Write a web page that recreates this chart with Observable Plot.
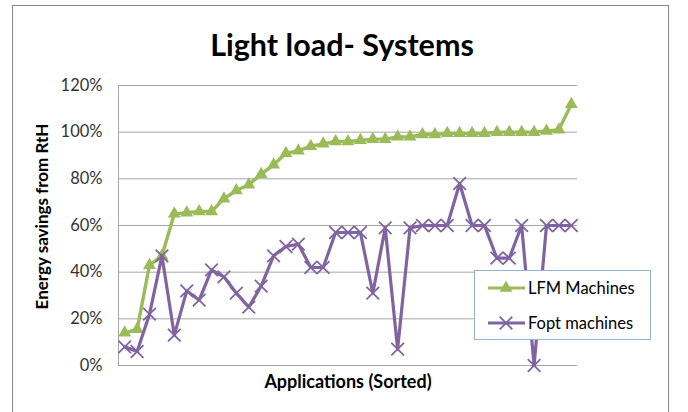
<!DOCTYPE html>
<html><head><meta charset="utf-8">
<script src="https://cdn.jsdelivr.net/npm/d3@7"></script>
<script src="https://cdn.jsdelivr.net/npm/@observablehq/plot@0.6"></script>
<style>
body{margin:0;background:#fff}
#chart svg{font-family:Lato,"Open Sans",sans-serif}
</style>
</head><body><div id="chart"></div>
<script>
// ---- data ----
const apps = d3.range(1, 38); // 37 applications, sorted
const lfm = [14, 15.5, 43, 47, 65, 65.5, 66, 66, 71.5, 75, 77.5, 82, 86, 91, 92, 94, 95, 96, 96, 96.5, 97, 97, 98, 98, 99, 99, 99.5, 99.5, 99.5, 99.5, 100, 100, 100, 100, 100.5, 101, 112];
const fopt = [8, 6, 22, 47, 13, 32, 28, 41, 38, 31, 25, 34, 47, 51, 52, 42, 42, 57, 57, 57, 31, 59, 7, 59, 60, 60, 60, 78, 60, 60, 46, 46, 60, 0, 60, 60, 60];
const yTicks = [0, 0.2, 0.4, 0.6, 0.8, 1.0, 1.2];
const seriesNames = ["LFM Machines", "Fopt machines"];
const colors = ["#9BBB59", "#8064A2"];
const titleText = "Light load- Systems";
const xTitle = "Applications (Sorted)";
const yTitle = "Energy savings from RtH";

const data = apps.map((a, i) => ({app: a, lfm: lfm[i] / 100, fopt: fopt[i] / 100}));

const chart = Plot.plot({
  width: 688, height: 412,
  marginLeft: 118, marginRight: 111, marginTop: 85, marginBottom: 47,
  style: {fontFamily: "Lato, 'Open Sans', sans-serif", fontSize: "16.5px", color: "#333", background: "#fff", overflow: "visible"},
  x: {type: "point", domain: apps, padding: 0.5, round: false, axis: null},
  y: {domain: [0, 1.2]},
  marks: [
    Plot.gridY(yTicks, {stroke: "#a6a6a6", strokeOpacity: 1}),
    Plot.frame({anchor: "left", stroke: "#a6a6a6", strokeOpacity: 1}),
    Plot.axisY(yTicks, {tickFormat: d3.format(".0%"), tickSize: 0, tickPadding: 16, label: null, fill: "#333", fontSize: 16.5}),
    Plot.line(data, {x: "app", y: "lfm", stroke: colors[0], strokeWidth: 3.4}),
    Plot.dot(data, {x: "app", y: "lfm", symbol: "triangle", fill: colors[0], r: 4.8}),
    Plot.line(data, {x: "app", y: "fopt", stroke: colors[1], strokeWidth: 3.2}),
    Plot.dot(data, {x: "app", y: "fopt", symbol: "times", stroke: colors[1], r: 5.8, strokeWidth: 1.8}),
    Plot.text([titleText], {text: d => d, frameAnchor: "top", lineAnchor: "middle", dx: -6, dy: -39, fontSize: 30.5, fontWeight: "bold", fill: "#000"}),
    Plot.text([xTitle], {text: d => d, frameAnchor: "bottom", lineAnchor: "middle", dy: 17, fontSize: 18, fontWeight: "bold", fill: "#000"}),
    Plot.text([yTitle], {text: d => d, frameAnchor: "left", textAnchor: "middle", lineAnchor: "middle", dx: -76, dy: -9, rotate: -90, fontSize: 17, fontWeight: "bold", fill: "#000"})
  ]
});

document.getElementById("chart").appendChild(chart);
const svg = d3.select(chart);

// outer chart border
svg.append("rect").attr("x", 12.5).attr("y", 5.5).attr("width", 656).attr("height", 430)
  .attr("fill", "none").attr("stroke", "#868686");

// legend
const lg = svg.append("g").attr("text-anchor", "start");
lg.append("rect").attr("x", 474.5).attr("y", 270.5).attr("width", 176).attr("height", 69)
  .attr("fill", "#fff").attr("stroke", "#95B3D7");
const items = [
  {name: seriesNames[0], color: colors[0], sym: d3.symbolTriangle, y: 288, fill: true},
  {name: seriesNames[1], color: colors[1], sym: d3.symbolTimes, y: 323, fill: false}
];
items.forEach(it => {
  lg.append("line").attr("x1", 488).attr("x2", 525).attr("y1", it.y).attr("y2", it.y)
    .attr("stroke", it.color).attr("stroke-width", 3.2);
  const p = lg.append("path").attr("transform", `translate(506,${it.y})`)
    .attr("d", d3.symbol(it.sym, it.fill ? Math.PI * 4.8 * 4.8 : Math.PI * 5.8 * 5.8)());
  if (it.fill) p.attr("fill", it.color);
  else p.attr("fill", "none").attr("stroke", it.color).attr("stroke-width", 1.8);
  lg.append("text").attr("x", 528).attr("y", it.y).attr("dy", "0.35em")
    .attr("font-size", 16.5).attr("fill", "#000").text(it.name);
});
</script>
</body></html>
